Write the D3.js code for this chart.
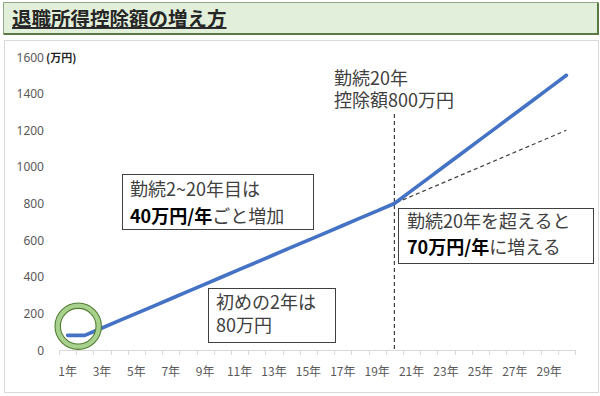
<!DOCTYPE html>
<html>
<head>
<meta charset="utf-8">
<script src="https://cdn.jsdelivr.net/npm/d3@7"></script>
<style>
  body { margin: 0; background: #fff; }
  svg { display: block; font-family: "Noto Sans CJK JP", "Noto Sans", sans-serif; }
</style>
</head>
<body>
<script>
// 勤続年数 (categories)
const years = ["1年","2年","3年","4年","5年","6年","7年","8年","9年","10年",
               "11年","12年","13年","14年","15年","16年","17年","18年","19年","20年",
               "21年","22年","23年","24年","25年","26年","27年","28年","29年","30年"];
// 退職所得控除額 (万円)
const deduction = [80,80,120,160,200,240,280,320,360,400,
                   440,480,520,560,600,640,680,720,760,800,
                   870,940,1010,1080,1150,1220,1290,1360,1430,1500];
// 40万円/年のまま続いた場合の点線
const trendYears = ["19年","30年"];
const trendValues = [760, 1200];
const yTicks = [0,200,400,600,800,1000,1200,1400,1600];

const width = 600, height = 396;
const svg = d3.select("body").append("svg")
    .attr("width", width)
    .attr("height", height);

// タイトル
svg.append("rect")
    .attr("x", 3.5).attr("y", 2.5).attr("width", 594).attr("height", 31)
    .attr("fill", "#e2efda").attr("stroke", "#93a886");
svg.append("path")
    .attr("d", "M598,2.5V34H3.5")
    .attr("fill", "none").attr("stroke", "#5a7a45").attr("stroke-width", 2);
svg.append("text")
    .attr("x", 12).attr("y", 26)
    .attr("font-size", "19.5px").attr("font-weight", "bold")
    .attr("fill", "#262626")
    .attr("text-decoration", "underline")
    .text("退職所得控除額の増え方");

// グラフ枠
svg.append("rect")
    .attr("x", 4.5).attr("y", 40.5).attr("width", 594).attr("height", 352)
    .attr("fill", "#fff").attr("stroke", "#d9d9d9");

const x = d3.scaleBand().domain(years).range([59, 575]);
const y = d3.scaleLinear().domain([0, 1600]).range([350, 57]);
const cx = d => x(d) + x.bandwidth() / 2;

// Y軸ラベル
svg.append("g").selectAll("text")
    .data(yTicks).join("text")
    .attr("x", 44).attr("y", d => y(d) + 4.5)
    .attr("text-anchor", "end")
    .attr("font-size", "12px")
    .attr("font-family", "Noto Sans, sans-serif")
    .attr("fill", "#595959")
    .text(d => d);
svg.append("text")
    .attr("x", 46).attr("y", y(1600) + 4.5)
    .attr("font-size", "11px").attr("font-weight", "bold")
    .attr("fill", "#262626")
    .text("(万円)");

// X軸
const xa = svg.append("g");
xa.append("line")
    .attr("x1", 59).attr("x2", 575)
    .attr("y1", y(0) + 0.5).attr("y2", y(0) + 0.5)
    .attr("stroke", "#d9d9d9");
xa.selectAll(".tick")
    .data(years.map(d => x(d)).concat([x.range()[1]])).join("line")
    .attr("x1", d => Math.round(d) + 0.5).attr("x2", d => Math.round(d) + 0.5)
    .attr("y1", y(0)).attr("y2", y(0) + 5)
    .attr("stroke", "#d9d9d9");
xa.selectAll("text")
    .data(years.filter((d, i) => i % 2 === 0)).join("text")
    .attr("x", d => cx(d)).attr("y", 376)
    .attr("text-anchor", "middle")
    .attr("font-size", "12px")
    .attr("fill", "#595959")
    .text(d => d);

// 勤続20年の縦線
svg.append("line")
    .attr("x1", cx("20年")).attr("x2", cx("20年"))
    .attr("y1", 114).attr("y2", y(0))
    .attr("stroke", "#404040").attr("stroke-width", 1.2)
    .attr("stroke-dasharray", "4,3");

// 点線 (40万円/年が続いた場合)
svg.append("path")
    .datum(trendYears.map((d, i) => [cx(d), y(trendValues[i])]))
    .attr("d", d3.line())
    .attr("fill", "none")
    .attr("stroke", "#404040").attr("stroke-width", 1.2)
    .attr("stroke-dasharray", "4,3");

// 控除額の線
svg.append("path")
    .datum(years.map((d, i) => [cx(d), y(deduction[i])]))
    .attr("d", d3.line())
    .attr("fill", "none")
    .attr("stroke", "#4472c4").attr("stroke-width", 3.6)
    .attr("stroke-linecap", "round").attr("stroke-linejoin", "round");

// 最初の2年を囲む円
const ccx = (cx("1年") + cx("2年")) / 2 + 2;
svg.append("circle")
    .attr("cx", ccx).attr("cy", y(130)).attr("r", 20.5)
    .attr("fill", "none").attr("stroke", "#507e32").attr("stroke-width", 6.5);
svg.append("circle")
    .attr("cx", ccx).attr("cy", y(130)).attr("r", 20.5)
    .attr("fill", "none").attr("stroke", "#a9d18e").attr("stroke-width", 4.3);

// 注釈
function box(x0, y0, w, h) {
    svg.append("rect")
        .attr("x", x0 + 0.5).attr("y", y0 + 0.5).attr("width", w).attr("height", h)
        .attr("fill", "#fff").attr("stroke", "#404040");
}
function line(x0, y0, parts) {
    const t = svg.append("text")
        .attr("x", x0).attr("y", y0)
        .attr("font-size", "18px");
    parts.forEach(p => {
        t.append("tspan")
            .attr("font-weight", p[1] ? "bold" : null)
            .attr("fill", p[1] ? "#000" : "#404040")
            .text(p[0]);
    });
}

line(334, 85, [["勤続20年", false]]);
line(334, 107, [["控除額800万円", false]]);

box(122, 174, 191, 55);
line(130, 196, [["勤続2~20年目は", false]]);
line(130, 223, [["40万円/年", true], ["ごと増加", false]]);

box(398, 208, 195, 55);
line(407, 228, [["勤続20年を超えると", false]]);
line(407, 254, [["70万円/年", true], ["に増える", false]]);

box(208, 288, 127, 54);
line(216, 309, [["初めの2年は", false]]);
line(216, 332, [["80万円", false]]);
</script>
</body>
</html>
